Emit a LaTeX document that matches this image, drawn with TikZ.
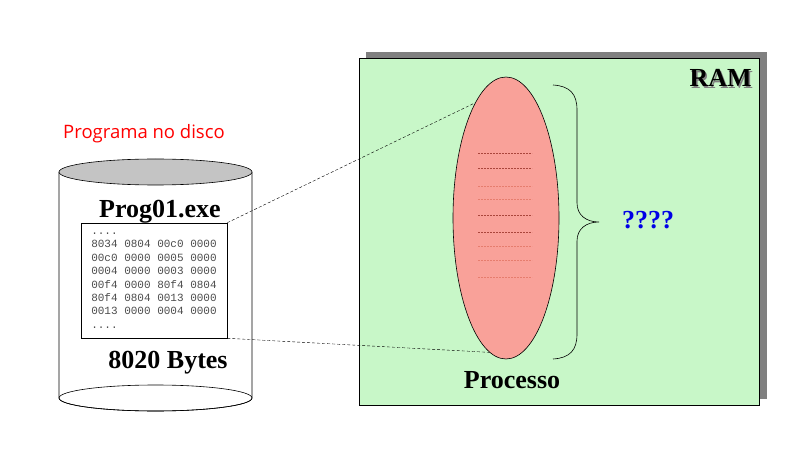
\documentclass[tikz,border=0pt]{standalone}
\usepackage{fontspec}
\setmainfont{Liberation Serif}
\setmonofont{Liberation Mono}
\newfontfamily\discfont{Open Sans}
\usepackage{tikz}
\usetikzlibrary{shapes.geometric}

\definecolor{ramgreen}{RGB}{200,247,200}
\definecolor{ramshadow}{RGB}{128,128,128}
\definecolor{procred}{RGB}{249,161,153}
\definecolor{discgray}{RGB}{196,196,196}
\definecolor{darkline}{RGB}{170,70,60}
\definecolor{lightline}{RGB}{230,125,110}
\definecolor{qblue}{RGB}{0,0,230}

\begin{document}
\begin{tikzpicture}[x=1pt,y=-1pt,line width=0.6pt,
    big label/.style={font=\fontsize{26}{28}\selectfont\bfseries,inner sep=0pt},
    code box/.style={draw,fill=white,minimum width=146pt,minimum height=115pt,inner sep=0pt,
      align=left,font=\fontsize{11}{13.4}\ttfamily,text=black!70},
    proc shape/.style={ellipse,draw,fill=procred,minimum width=106pt,minimum height=282pt,inner sep=0pt},
    mem line/.style={dash pattern=on 2pt off 1pt,line width=0.5pt},
    link/.style={densely dashed,line width=0.4pt}]
    \useasboundingbox (0,0) rectangle (805,462);

    % disco
    \draw[fill=white] (59,172) -- (59,398) arc[start angle=180,end angle=360,x radius=96.5pt,y radius=13pt] -- (252,172);
    \draw (155.5,398) ellipse [x radius=96.5pt,y radius=13pt];
    \draw[fill=discgray] (155.5,172) ellipse [x radius=96.5pt,y radius=13pt];
    \node[font=\discfont\fontsize{18.5}{20}\selectfont,text=red,inner sep=0pt,anchor=base] (disco) at (144,139) {Programa no disco};
    \node[big label,anchor=base] (exe) at (160,218) {Prog01.exe};
    \node[code box] (code) at (154,280.5) {....\\8034 0804 00c0 0000\\00c0 0000 0005 0000\\0004 0000 0003 0000\\00f4 0000 80f4 0804\\80f4 0804 0013 0000\\0013 0000 0004 0000\\....};
    \node[big label,anchor=base] (bytes) at (168,368) {8020 Bytes};

    % memoria
    \fill[ramshadow] (366,52) rectangle (767,399);
    \draw[fill=ramgreen] (359,58) rectangle (759,405);
    \node[big label,text=ramshadow,anchor=base east] (ramshade) at (753.5,88.5) {RAM};
    \node[big label,anchor=base east] (ram) at (752,87) {RAM};

    \node[proc shape] (proc) at (506,218) {};
    \foreach \y/\c in {153/darkline,168/darkline,186/lightline,199/lightline,215/darkline,232/darkline,246/lightline,260/lightline,277/lightline}
      \draw[mem line,\c] (478,\y) -- (532,\y);
    \node[big label,anchor=base] (proclbl) at (512,388) {Processo};

    \draw (553,85) .. controls (570,86) and (577,94) .. (577,110) -- (577,203)
      .. controls (577,215) and (586,222) .. (599,222)
      .. controls (586,222) and (577,229) .. (577,241) -- (577,334)
      .. controls (577,350) and (570,358) .. (553,359);
    \coordinate (tip) at (599,222);
    \node[big label,text=qblue,anchor=base] (quest) at (648,229) {????};

    \path[link]
    (code.north east) edge (proc.105)
    (code.south east) edge (proc.263);
\end{tikzpicture}
\end{document}
